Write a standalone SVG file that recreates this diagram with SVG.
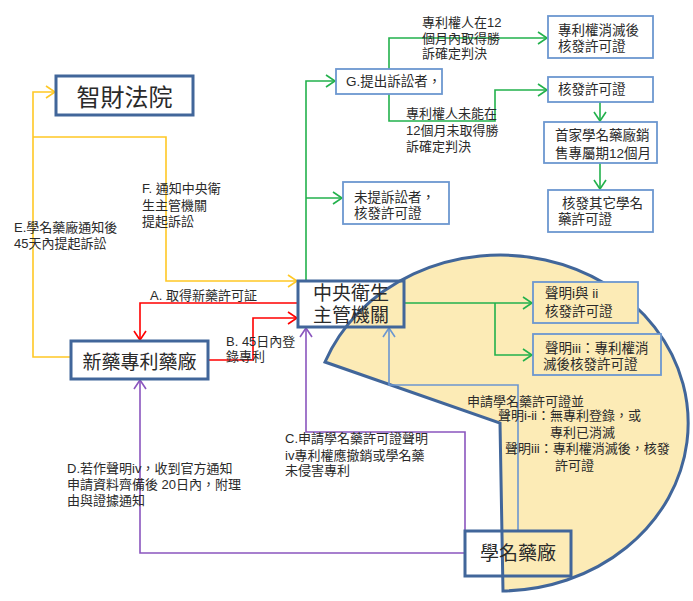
<svg xmlns="http://www.w3.org/2000/svg" width="693" height="601" viewBox="0 0 693 601">
<style>
text{font-family:"Liberation Sans","Noto Sans CJK TC",sans-serif;fill:#2a2a2a;}
.lb{font-size:13px;}
.nt{font-size:13.5px;}
.big{font-size:19px;}
.main{fill:none;stroke:#41669A;stroke-width:3;}
.sm{fill:#fff;stroke:#6C97D0;stroke-width:1.8;}
.smy{fill:#FCEBB6;stroke:#6C97D0;stroke-width:1.8;}
.g{fill:none;stroke:#22B14C;stroke-width:1.6;}
.y{fill:none;stroke:#FFC825;stroke-width:1.6;}
.r{fill:none;stroke:#FF0000;stroke-width:1.6;}
.p{fill:none;stroke:#8A55BE;stroke-width:1.6;}
.b{fill:none;stroke:#6C97D0;stroke-width:1.6;}
</style>
<defs>
<marker id="ag" markerWidth="12" markerHeight="14" refX="10" refY="7" orient="auto" markerUnits="userSpaceOnUse"><path d="M1,1 L10,7 L1,13" fill="none" stroke="#22B14C" stroke-width="1.6"/></marker>
<marker id="ay" markerWidth="12" markerHeight="14" refX="10" refY="7" orient="auto" markerUnits="userSpaceOnUse"><path d="M1,1 L10,7 L1,13" fill="none" stroke="#FFC825" stroke-width="1.6"/></marker>
<marker id="ar" markerWidth="12" markerHeight="14" refX="10" refY="7" orient="auto" markerUnits="userSpaceOnUse"><path d="M1,1 L10,7 L1,13" fill="none" stroke="#FF0000" stroke-width="1.6"/></marker>
<marker id="ap" markerWidth="12" markerHeight="14" refX="10" refY="7" orient="auto" markerUnits="userSpaceOnUse"><path d="M1,1 L10,7 L1,13" fill="none" stroke="#8A55BE" stroke-width="1.6"/></marker>
<marker id="ab" markerWidth="12" markerHeight="14" refX="10" refY="7" orient="auto" markerUnits="userSpaceOnUse"><path d="M1,1 L10,7 L1,13" fill="none" stroke="#6C97D0" stroke-width="1.6"/></marker>
</defs>
<rect width="693" height="601" fill="#fff"/>
<g id="pie">
<path d="M325,362 A188,168 0 1 1 503,591 L500,423 Z" fill="#FCEBB6" stroke="#41669A" stroke-width="3"/>
</g>
<g id="connectors">
<path class="g" d="M306,281 V81 H335" marker-end="url(#ag)"/>
<path class="g" d="M306,198 H342" marker-end="url(#ag)"/>
<path class="g" d="M389,69 V38 H547" marker-end="url(#ag)"/>
<path class="g" d="M389,94 V121 H495 V90 H547" marker-end="url(#ag)"/>
<path class="g" d="M600,102 V121" marker-end="url(#ag)"/>
<path class="g" d="M600,163 V189" marker-end="url(#ag)"/>
<path class="g" d="M404,303 H532" marker-end="url(#ag)"/>
<path class="g" d="M495,303 V355 H532" marker-end="url(#ag)"/>
<path class="y" d="M71,357 H33 V92 H55" marker-end="url(#ay)"/>
<path class="y" d="M33,137 H166 V281 H297" marker-end="url(#ay)"/>
<path class="r" d="M298,303 H140 V340" marker-end="url(#ar)"/>
<path class="r" d="M208,360 H253 V318 H297" marker-end="url(#ar)"/>
<path class="p" d="M465,553 H140 V380" marker-end="url(#ap)"/>
<path class="p" d="M465,553 V432 H306 V328" marker-end="url(#ap)" stroke-width="1.2"/>
<path class="b" d="M518,531 V385 H389 V328" marker-end="url(#ab)"/>
</g>
<g id="labels" class="lb">
<text x="422" y="27">專利權人在12</text>
<text x="422" y="43">個月內取得勝</text>
<text x="422" y="58">訴確定判決</text>
<text x="406" y="118">專利權人未能在</text>
<text x="406" y="135">12個月未取得勝</text>
<text x="406" y="151">訴確定判決</text>
<text x="142" y="193">F. 通知中央衛</text>
<text x="142" y="210">生主管機關</text>
<text x="142" y="226">提起訴訟</text>
<text x="14" y="232">E.學名藥廠通知後</text>
<text x="14" y="248">45天內提起訴訟</text>
<text x="150" y="300">A. 取得新藥許可証</text>
<text x="226" y="346">B. 45日內登</text>
<text x="226" y="361">錄專利</text>
<text x="285" y="443">C.申請學名藥許可證聲明</text>
<text x="285" y="460">iv專利權應撤銷或學名藥</text>
<text x="285" y="475">未侵害專利</text>
<text x="67" y="473">D.若作聲明iv，收到官方通知</text>
<text x="67" y="489">申請資料齊備後 20日內，附理</text>
<text x="67" y="505">由與證據通知</text>
<text x="467" y="406">申請學名藥許可證並</text>
<text x="498" y="420">聲明i-ii：無專利登錄，或</text>
<text x="550" y="437">專利已消滅</text>
<text x="505" y="453">聲明iii：專利權消滅後，核發</text>
<text x="555" y="470">許可證</text>
</g>
<g id="n-court"><rect class="main" x="56" y="76" width="137" height="39" fill="#fff"/><text x="124.5" y="106" font-size="24" text-anchor="middle">智財法院</text></g>
<g id="n-newdrug"><rect class="main" x="71" y="341" width="137" height="38"/><text x="139.5" y="369" class="big" text-anchor="middle">新藥專利藥廠</text></g>
<g id="n-central"><rect class="main" x="298" y="281" width="106" height="46"/><text x="351" y="300" class="big" text-anchor="middle">中央衛生</text><text x="351" y="322" class="big" text-anchor="middle">主管機關</text></g>
<g id="n-generic"><rect class="main" x="465" y="531" width="106" height="45"/><text x="518" y="560" class="big" text-anchor="middle">學名藥廠</text></g>
<g id="n-g"><rect class="sm" x="336" y="69" width="106" height="25"/><text x="346" y="86" class="nt">G.提出訴訟者，</text></g>
<g id="n-win"><rect class="sm" x="548" y="16" width="105" height="42"/><text x="558" y="35" class="nt">專利權消滅後</text><text x="558" y="51" class="nt">核發許可證</text></g>
<g id="n-issue"><rect class="sm" x="548" y="77" width="105" height="25"/><text x="558" y="94" class="nt">核發許可證</text></g>
<g id="n-excl"><rect class="sm" x="544" y="122" width="113" height="41"/><text x="555" y="140" class="nt">首家學名藥廠銷</text><text x="555" y="158" class="nt">售專屬期12個月</text></g>
<g id="n-other"><rect class="sm" x="548" y="190" width="105" height="42"/><text x="562" y="208" class="nt">核發其它學名</text><text x="558" y="224" class="nt">藥許可證</text></g>
<g id="n-nosuit"><rect class="sm" x="343" y="182" width="106" height="42"/><text x="354" y="202" class="nt">未提訴訟者，</text><text x="354" y="218" class="nt">核發許可證</text></g>
<g id="n-decl12"><rect class="smy" x="533" y="282" width="105" height="41"/><text x="545" y="298" class="nt">聲明i與 ii</text><text x="545" y="316" class="nt">核發許可證</text></g>
<g id="n-decl3"><rect class="smy" x="533" y="334" width="128" height="41"/><text x="545" y="353" class="nt">聲明iii：專利權消</text><text x="543" y="369" class="nt">滅後核發許可證</text></g>
</svg>
